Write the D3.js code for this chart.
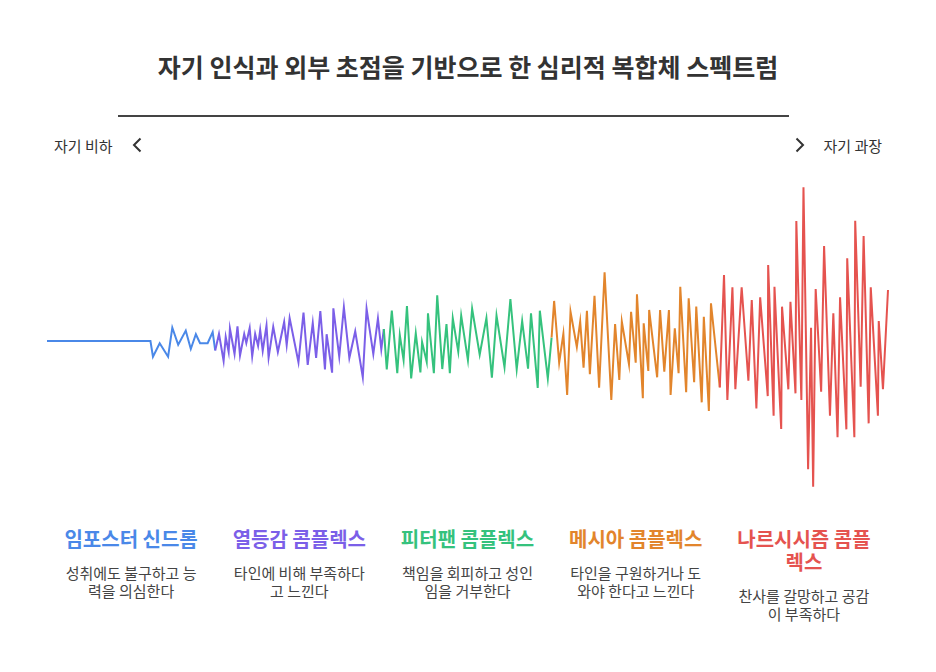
<!DOCTYPE html>
<html>
<head>
<meta charset="utf-8">
<script src="https://cdn.jsdelivr.net/npm/d3@7"></script>
<style>
  body { margin: 0; background: #fff; }
  svg { display: block; }
</style>
</head>
<body>
<div id="chart"></div>
<script>
const TITLE = '자기 인식과 외부 초점을 기반으로 한 심리적 복합체 스펙트럼';
const LEFT_LABEL = '자기 비하';
const RIGHT_LABEL = '자기 과장';

const complexNames = [
  ['임포스터 신드롬'],
  ['열등감 콤플렉스'],
  ['피터팬 콤플렉스'],
  ['메시아 콤플렉스'],
  ['나르시시즘 콤플', '렉스'],
];
const complexDescriptions = [
  ['성취에도 불구하고 능', '력을 의심한다'],
  ['타인에 비해 부족하다', '고 느낀다'],
  ['책임을 회피하고 성인', '임을 거부한다'],
  ['타인을 구원하거나 도', '와야 한다고 느낀다'],
  ['찬사를 갈망하고 공감', '이 부족하다'],
];
const complexColors = ['#4a88e8', '#7b5fe8', '#35c27d', '#e2852c', '#e5534f'];

// [spectrum position 0..100, amplitude]
const impostorWave = [[0, 0], [12.3, 0], [12.6, -10.5], [13.4, -1.5], [14.4, -10.5], [14.9, 8.9], [15.6, -2.5],
  [16.5, 6.9], [17.1, -5.3], [17.7, 4.5], [18.2, -1.5], [19.1, -1.5], [19.7, 6], [20.0, -6.3]];
const inferiorityWave = [[20.0, -6.3], [20.45, 4.7], [21.0, -13.3], [21.25, 2.7], [21.6, -7.3], [21.75, 8.3],
  [22.3, -8.7], [22.65, 9.7], [22.95, -9.7], [23.45, 4.7], [23.7, -1.3], [24.1, 8.7], [24.4, -10.2], [24.75, 4.7],
  [25.1, -3.3], [25.35, 7.3], [25.65, -6.5], [26.1, 10.3], [26.35, -11.1], [26.9, 9.5], [27.45, -7.3], [28.2, 12.7],
  [28.5, -2.7], [28.85, 15.3], [29.9, -14.2], [30.5, 19], [31.0, -16], [31.6, 12], [32.0, -11.3], [32.5, 20],
  [33.05, -19], [33.25, 4.5], [33.9, -21.1], [34.05, 21.8], [34.75, -10.5], [35.3, 22.5], [35.95, -11.3],
  [36.65, 6.5], [37.55, -24.2], [38.0, 21.5], [38.8, -8.7], [39.35, 15.1], [39.75, -5.5], [40.05, 8]];
const peterPanWave = [[40.05, 8], [40.4, -18.9], [41.0, 20.2], [41.65, -21.5], [41.95, 4], [42.4, -12.7],
  [42.8, 23.3], [43.3, -24.9], [43.85, 5.1], [44.4, -20.9], [44.6, -0.7], [45.15, -14], [45.3, 18.5], [46.0, -21.5],
  [46.4, 30.5], [47.0, -18.7], [47.5, 11.3], [47.9, -21.5], [48.25, 15.1], [48.9, -7.1], [49.25, 16.9],
  [50.05, -12.7], [50.55, 21.5], [51.45, -9.1], [52.25, 15.3], [52.9, -24.5], [53.45, 16.9], [54.4, -17.5],
  [55.1, 28], [55.85, -18.9], [56.5, 13.3], [57.2, -18.5], [57.55, 18.5], [58.35, -31.3], [58.6, 20.2],
  [59.55, -24.9], [60.0, 2.3]];
const messiahWave = [[60.0, 2.3], [60.3, 26.7], [60.9, -14.5], [61.4, 4.9], [61.85, -36], [62.25, 19.5],
  [63.0, -4], [63.4, 12.9], [63.8, -17.8], [64.2, 20.2], [64.55, -22.2], [65.1, 30.2], [65.65, -31.1], [66.3, 45.8],
  [67.1, -39.3], [67.55, 11.3], [68.05, -26], [68.35, 12.9], [69.2, -15.5], [69.45, 19.5], [70.0, -14.5],
  [70.15, 31.1], [70.85, -38.2], [70.95, 11.8], [71.5, -20], [71.6, 20.7], [72.55, -24.2], [72.9, 20.7],
  [73.4, -20.5], [73.95, 20.7], [74.15, -36], [74.65, 8.5], [75.1, -21.5], [75.3, 36.2], [76.0, -34.2],
  [76.3, 28.5], [76.95, -27.5], [77.2, 22.9], [77.85, -40.9], [78.1, 16.2], [78.7, -46.7], [78.95, 25.1],
  [80.0, -30.9]];
const narcissismWave = [[80.0, -30.9], [80.5, 44], [80.9, -39.3], [81.5, 35.8], [81.85, -32.2], [82.6, 35.8],
  [83.4, -26.5], [83.8, 27.3], [84.35, -44.9], [84.8, 29.1], [85.7, -36.7], [85.75, 50.7], [86.4, -49.8],
  [86.5, 36.2], [87.3, -58.7], [87.4, 22.9], [88.15, -32.2], [88.4, 26.2], [89.0, -34.9], [89.1, 80],
  [89.7, -39.3], [89.95, 102.5], [90.5, -85.5], [90.85, 8.9], [91.1, -97.1], [91.4, 34.7], [92.05, -33.8],
  [92.4, 63.3], [93.1, -49.8], [93.5, 18.5], [94.0, -64.2], [94.3, 29.1], [95.05, -58.9], [95.15, 55.1],
  [96.0, -64.2], [96.1, 80.2], [96.75, -30.5], [97.1, 70], [97.7, -54.9], [97.95, 35.8], [98.8, -49.8],
  [98.9, 13.3], [99.4, -32.2], [100, 34]];

const waves = [impostorWave, inferiorityWave, peterPanWave, messiahWave, narcissismWave];

const width = 936;
const height = 672;
const FONT = '"Noto Sans CJK KR", "Noto Sans", sans-serif';
const margin = { left: 47, right: 48 };

const svg = d3
  .select('#chart')
  .append('svg')
  .attr('width', width)
  .attr('height', height)
  .style('font-family', FONT);

const x = d3.scaleLinear().domain([0, 100]).range([margin.left, width - margin.right]);
const y = d3.scaleLinear().domain([-100, 100]).range([491, 191]);
const columns = d3.scaleBand().domain(d3.range(complexNames.length)).range(x.range());

/* title + rule */
svg
  .append('text')
  .attr('x', width / 2)
  .attr('y', 66)
  .attr('text-anchor', 'middle')
  .attr('dominant-baseline', 'central')
  .attr('font-size', 25)
  .attr('font-weight', 700)
  .attr('fill', '#333')
  .text(TITLE);

svg
  .append('line')
  .attr('x1', 118)
  .attr('x2', 789)
  .attr('y1', 116)
  .attr('y2', 116)
  .attr('stroke', '#444')
  .attr('stroke-width', 2);

/* spectrum end labels */
const endY = 145;
svg
  .append('text')
  .attr('x', 54)
  .attr('y', endY)
  .attr('dominant-baseline', 'central')
  .attr('font-size', 15)
  .attr('fill', '#333')
  .text(LEFT_LABEL);
svg
  .append('text')
  .attr('x', 882)
  .attr('y', endY)
  .attr('text-anchor', 'end')
  .attr('dominant-baseline', 'central')
  .attr('font-size', 15)
  .attr('fill', '#333')
  .text(RIGHT_LABEL);

// chevrons
const chevron = (cx, dir) =>
  `M${cx + 3.5 * dir},${endY - 6.5} L${cx - 3 * dir},${endY} L${cx + 3.5 * dir},${endY + 6.5}`;
svg
  .append('path')
  .attr('d', chevron(137, 1))
  .attr('fill', 'none')
  .attr('stroke', '#333')
  .attr('stroke-width', 2);
svg
  .append('path')
  .attr('d', chevron(800, -1))
  .attr('fill', 'none')
  .attr('stroke', '#333')
  .attr('stroke-width', 2);

/* waveform */
const line = d3
  .line()
  .x((d) => x(d[0]))
  .y((d) => y(d[1]));

svg
  .append('g')
  .attr('class', 'waves')
  .selectAll('path')
  .data(waves)
  .enter()
  .append('path')
  .attr('d', line)
  .attr('fill', 'none')
  .attr('stroke', (_, i) => complexColors[i])
  .attr('stroke-width', 2)
  .attr('stroke-linejoin', 'miter')
  .attr('stroke-miterlimit', 10);

/* complex labels: one text per block, lines as tspans */
const labels = svg
  .append('g')
  .attr('class', 'labels')
  .selectAll('g')
  .data(complexNames)
  .enter()
  .append('g')
  .attr('transform', (_, i) => `translate(${columns(i) + columns.bandwidth() / 2},0)`);

labels.each(function drawLabel(names, i) {
  const g = d3.select(this);
  const nameText = g
    .append('text')
    .attr('text-anchor', 'middle')
    .attr('font-size', 20)
    .attr('font-weight', 700)
    .attr('fill', complexColors[i]);
  names.forEach((t, j) => {
    nameText.append('tspan').attr('x', 0).attr('y', 547 + j * 23).text(t);
  });
  const descTop = 579 + (names.length - 1) * 23;
  const descText = g
    .append('text')
    .attr('text-anchor', 'middle')
    .attr('font-size', 15)
    .attr('fill', '#444');
  complexDescriptions[i].forEach((t, j) => {
    descText.append('tspan').attr('x', 0).attr('y', descTop + j * 17.5).text(t);
  });
});
</script>
</body>
</html>
